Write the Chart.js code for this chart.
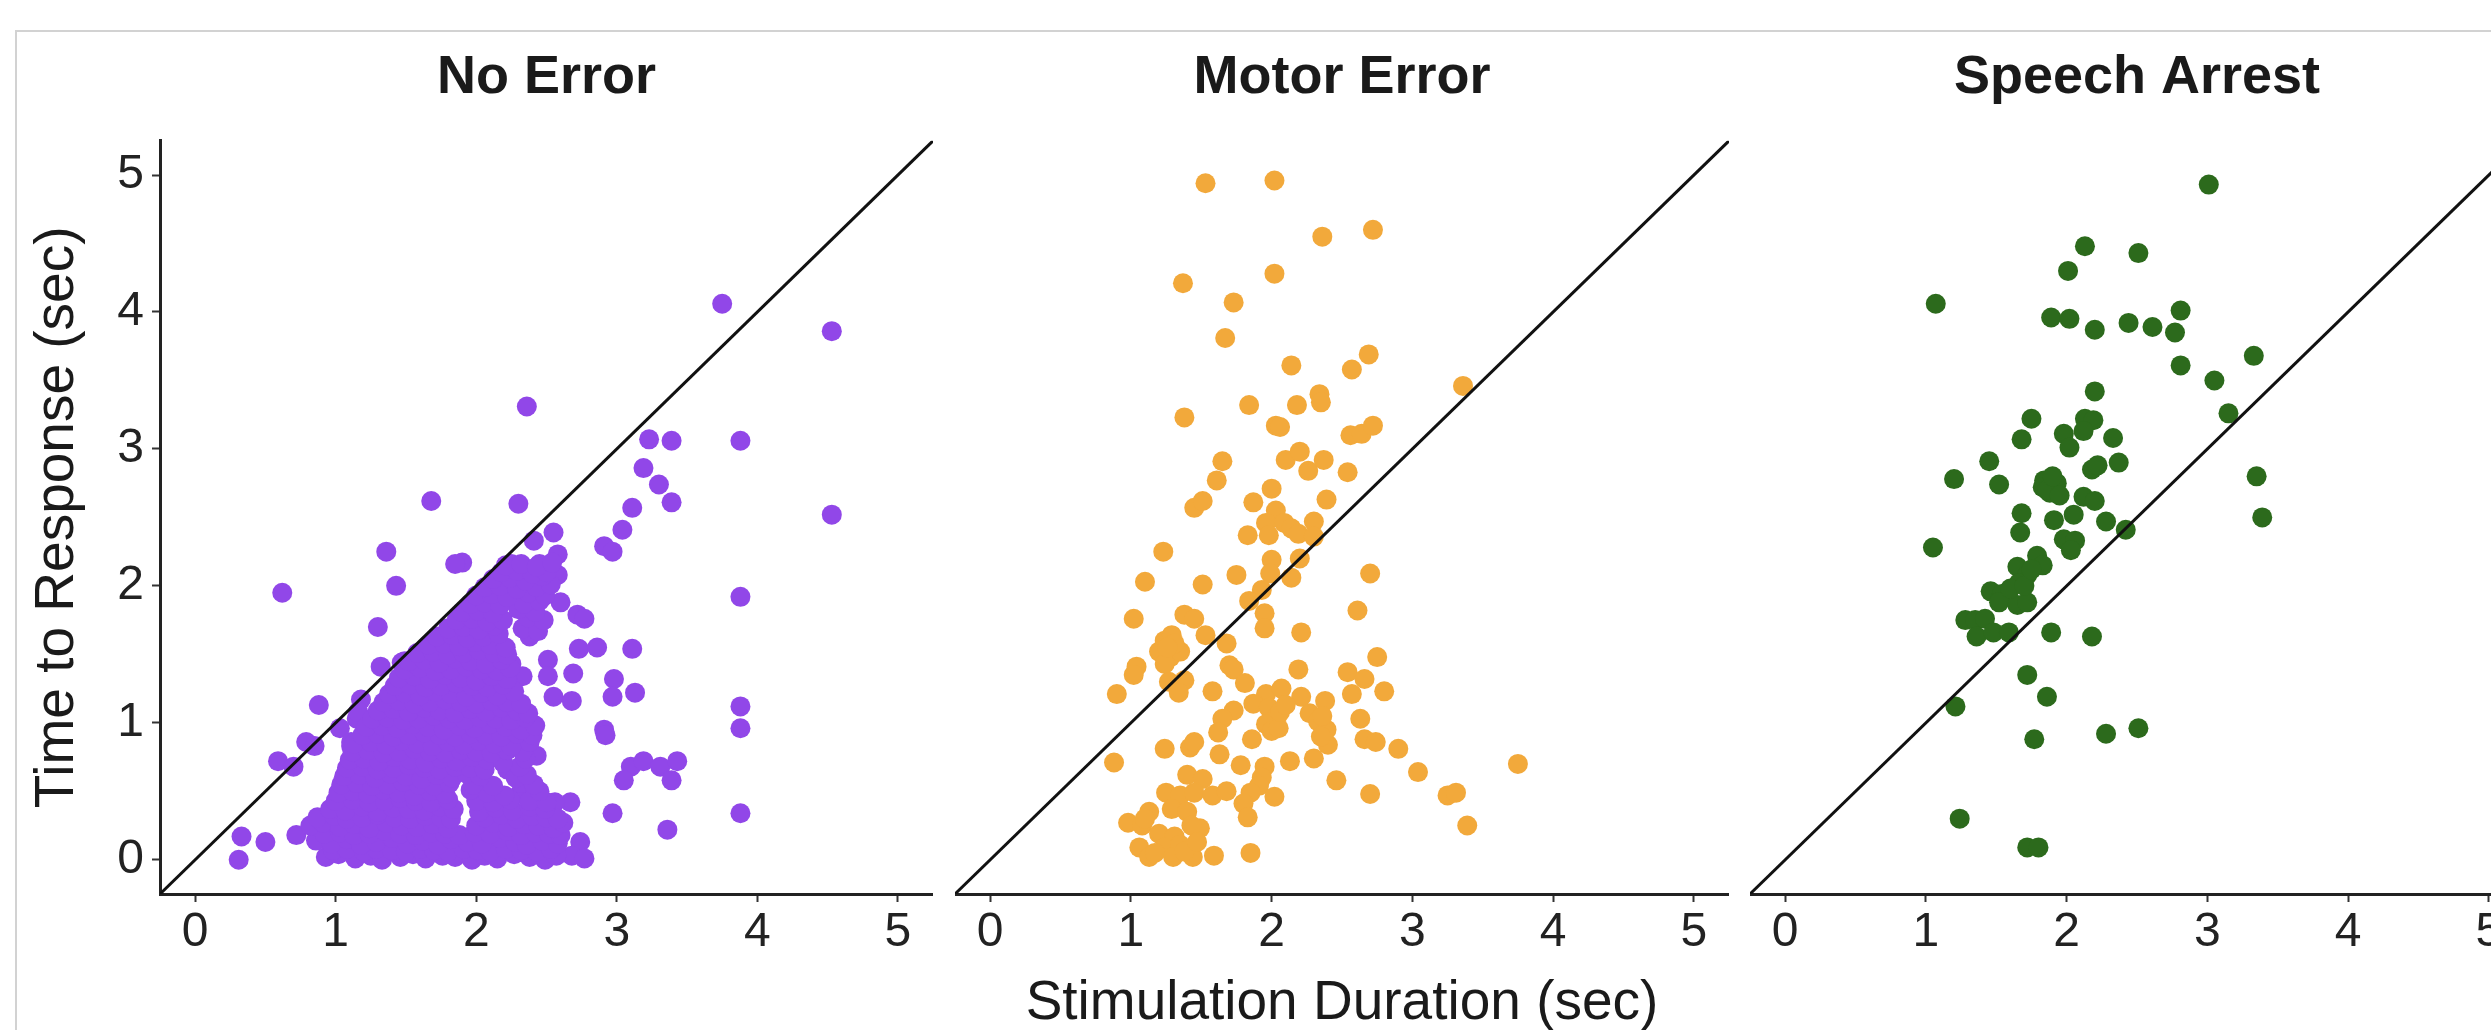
<!DOCTYPE html>
<html>
<head>
<meta charset="utf-8">
<script src="https://cdn.jsdelivr.net/npm/chart.js@4.4.1/dist/chart.umd.min.js"></script>
<style>
  html, body { margin: 0; padding: 0; width: 2491px; height: 1030px; overflow: hidden; background: #fff; }
  #frame { position: absolute; left: 15px; top: 30px; width: 2600px; height: 1100px; border: 2px solid #d2d2d2; }
  canvas { position: absolute; top: 46px; }
</style>
</head>
<body>
<div id="frame"></div>
<canvas id="panel1" style="left:0px"></canvas>
<canvas id="panel2" style="left:955px"></canvas>
<canvas id="panel3" style="left:1750px"></canvas>
<script>
// facet titles + axis titles
const facetTitles = ["No Error", "Motor Error", "Speech Arrest"];
const xTitle = "Stimulation Duration (sec)";
const yTitle = "Time to Response (sec)";
const axisMin = -0.25;
const axisMax = 5.25;
// reference line y = x (drawn corner to corner)
const identityLine = [-0.25, 5.25];

// [stimulation duration, time to response]
const noError = [
  [3.75,4.06],[4.53,3.86],[2.36,3.31],[3.23,3.07],[3.39,3.06],[3.88,3.06],[3.19,2.86],[3.30,2.74],
  [3.39,2.61],[3.11,2.57],[4.53,2.52],[1.68,2.62],[2.30,2.60],[3.04,2.41],[2.91,2.29],[2.97,2.25],
  [2.55,2.39],[2.41,2.33],[2.58,2.23],[1.36,2.25],[1.90,2.17],[1.85,2.16],[1.43,2.00],[0.62,1.95],
  [3.88,1.92],[2.58,2.08],[2.45,2.16],[2.33,2.12],[2.25,2.16],[2.31,1.97],[2.15,1.91],[2.05,1.91],
  [2.60,1.88],[2.72,1.79],[2.77,1.76],[1.30,1.70],[2.73,1.54],[2.86,1.55],[3.11,1.54],[2.51,1.46],
  [2.25,1.43],[2.33,1.34],[2.51,1.34],[2.69,1.36],[2.98,1.32],[3.13,1.22],[2.97,1.19],[2.55,1.19],
  [2.68,1.16],[1.32,1.41],[1.47,1.44],[1.47,1.24],[0.88,1.13],[2.91,0.95],[2.92,0.91],[3.88,1.12],
  [3.88,0.96],[3.10,0.68],[3.19,0.72],[3.05,0.58],[3.31,0.68],[3.43,0.72],[3.39,0.58],[2.97,0.34],
  [3.88,0.34],[3.36,0.22],[0.59,0.72],[0.70,0.68],[0.79,0.86],[0.85,0.83],[0.33,0.17],[0.50,0.13],
  [0.72,0.18],[0.31,0.00],[1.18,1.17],[1.15,1.03],[1.03,0.96],[1.11,0.83],[1.22,0.96],[2.40,0.99],
  [2.43,0.76],[2.22,0.66],[2.31,0.48],[2.33,0.57],[2.67,0.42],[2.56,0.42],[2.45,0.34],[2.61,0.27],
  [2.74,0.13],[2.68,0.03],[2.77,0.01],[1.49,1.45],[1.63,1.47],[1.77,1.54],[1.16,1.08],[1.11,0.86]
];
// the dense cloud of No Error trials, read row by row
const noErrorCore = [
  [0.93,0.02],[1.02,0.04],[1.14,0.01],[1.25,0.03],[1.33,0.00],[1.46,0.02],[1.55,0.04],[1.64,0.01],[1.76,0.03],
  [1.85,0.02],[1.97,0.00],[2.06,0.03],[2.15,0.01],[2.27,0.04],[2.38,0.02],[2.49,0.00],[2.57,0.03],
  [0.98,0.07],[1.08,0.08],[1.20,0.06],[1.29,0.08],[1.40,0.07],[1.50,0.06],[1.60,0.08],[1.70,0.07],[1.80,0.06],
  [1.91,0.08],[2.01,0.07],[2.10,0.06],[2.21,0.08],[2.32,0.07],[2.43,0.06],[2.53,0.08],
  [0.86,0.14],[0.97,0.12],[1.08,0.15],[1.18,0.11],[1.29,0.13],[1.40,0.16],[1.51,0.12],[1.62,0.14],[1.73,0.11],
  [1.82,0.15],[1.94,0.13],[2.04,0.12],[2.17,0.16],[2.28,0.13],[2.36,0.11],[2.47,0.14],[2.58,0.12],
  [0.92,0.19],[1.03,0.20],[1.13,0.18],[1.24,0.19],[1.35,0.21],[1.46,0.19],[1.57,0.18],[1.68,0.20],[1.78,0.19],
  [1.88,0.18],[1.99,0.20],[2.10,0.19],[2.22,0.21],[2.32,0.18],[2.42,0.20],[2.52,0.19],[2.60,0.18],
  [0.82,0.25],[0.91,0.27],[1.03,0.24],[1.13,0.26],[1.24,0.23],[1.36,0.27],[1.47,0.25],[1.58,0.24],[1.69,0.26],
  [1.80,0.23],[2.00,0.25],[2.12,0.27],[2.23,0.24],[2.34,0.26],[2.44,0.25],[2.55,0.23],[2.62,0.27],
  [0.87,0.31],[0.99,0.32],[1.08,0.30],[1.19,0.31],[1.30,0.33],[1.42,0.31],[1.53,0.30],[1.64,0.32],[1.75,0.31],
  [1.82,0.30],[2.06,0.31],[2.18,0.33],[2.29,0.30],[2.40,0.32],[2.50,0.31],[2.58,0.30],
  [0.96,0.37],[1.07,0.36],[1.19,0.39],[1.30,0.35],[1.41,0.38],[1.52,0.37],[1.63,0.36],[1.74,0.39],[1.84,0.37],
  [2.02,0.35],[2.14,0.38],[2.26,0.36],[2.38,0.39],[2.49,0.37],
  [1.00,0.43],[1.12,0.44],[1.24,0.42],[1.35,0.43],[1.46,0.45],[1.57,0.43],[1.68,0.42],[1.80,0.44],[2.00,0.43],
  [2.12,0.42],[2.24,0.44],[2.38,0.43],[2.50,0.42],
  [1.02,0.49],[1.12,0.50],[1.23,0.48],[1.34,0.51],[1.45,0.49],[1.56,0.47],[1.67,0.50],[1.78,0.48],[1.96,0.51],
  [2.08,0.49],[2.20,0.47],[2.45,0.50],
  [1.04,0.55],[1.15,0.56],[1.26,0.54],[1.37,0.55],[1.48,0.57],[1.59,0.55],[1.70,0.54],[1.81,0.56],[1.98,0.55],
  [2.12,0.54],[2.32,0.56],[2.41,0.55],
  [1.06,0.61],[1.17,0.62],[1.28,0.60],[1.39,0.63],[1.50,0.61],[1.61,0.59],[1.72,0.62],[1.83,0.60],[1.93,0.63],
  [2.03,0.61],[2.28,0.60],[2.36,0.62],
  [1.08,0.67],[1.19,0.68],[1.30,0.66],[1.41,0.67],[1.52,0.69],[1.63,0.67],[1.74,0.66],[1.85,0.68],[1.96,0.67],
  [2.06,0.66],[2.31,0.68],
  [1.10,0.73],[1.20,0.74],[1.31,0.72],[1.42,0.75],[1.53,0.73],[1.64,0.71],[1.75,0.74],[1.86,0.72],[1.97,0.75],
  [2.08,0.73],[2.19,0.71],[2.35,0.74],
  [1.12,0.79],[1.23,0.80],[1.34,0.78],[1.45,0.79],[1.56,0.81],[1.67,0.79],[1.78,0.78],[1.89,0.80],[2.00,0.79],
  [2.11,0.78],[2.22,0.80],[2.33,0.79],
  [1.13,0.85],[1.25,0.86],[1.36,0.84],[1.47,0.87],[1.58,0.85],[1.69,0.83],[1.80,0.86],[1.91,0.84],[2.02,0.87],
  [2.13,0.85],[2.25,0.83],[2.38,0.86],
  [1.19,0.91],[1.30,0.92],[1.41,0.90],[1.52,0.91],[1.63,0.93],[1.74,0.91],[1.85,0.90],[1.96,0.92],[2.07,0.91],
  [2.18,0.90],[2.29,0.92],[2.40,0.91],
  [1.22,0.97],[1.33,0.98],[1.44,0.96],[1.55,0.99],[1.66,0.97],[1.77,0.95],[1.88,0.98],[1.99,0.96],[2.10,0.99],
  [2.21,0.97],[2.32,0.95],[2.42,0.98],
  [1.26,1.03],[1.37,1.04],[1.48,1.02],[1.59,1.03],[1.70,1.05],[1.81,1.03],[1.92,1.02],[2.03,1.04],[2.14,1.03],
  [2.25,1.02],[2.35,1.04],
  [1.30,1.09],[1.41,1.10],[1.52,1.08],[1.63,1.11],[1.74,1.09],[1.85,1.07],[1.96,1.10],[2.07,1.08],[2.18,1.11],
  [2.29,1.09],[2.37,1.07],
  [1.34,1.15],[1.45,1.16],[1.56,1.14],[1.67,1.15],[1.78,1.17],[1.89,1.15],[2.00,1.14],[2.11,1.16],[2.22,1.15],
  [2.32,1.14],
  [1.38,1.21],[1.49,1.22],[1.60,1.20],[1.71,1.23],[1.82,1.21],[1.93,1.19],[2.04,1.22],[2.15,1.20],[2.27,1.23],
  [1.42,1.27],[1.53,1.28],[1.64,1.26],[1.75,1.27],[1.86,1.29],[1.97,1.27],[2.08,1.26],[2.19,1.28],
  [1.45,1.33],[1.56,1.34],[1.67,1.32],[1.78,1.35],[1.89,1.33],[2.00,1.31],[2.11,1.34],[2.22,1.32],
  [1.49,1.39],[1.60,1.40],[1.71,1.38],[1.82,1.39],[1.93,1.41],[2.04,1.39],[2.15,1.38],[2.24,1.40],
  [1.52,1.45],[1.63,1.46],[1.74,1.44],[1.85,1.47],[1.96,1.45],[2.07,1.43],[2.18,1.46],
  [1.58,1.51],[1.69,1.52],[1.80,1.50],[1.91,1.51],[2.02,1.53],[2.13,1.51],[2.22,1.50],
  [1.66,1.57],[1.77,1.58],[1.88,1.56],[1.99,1.59],[2.10,1.57],[2.21,1.55],
  [1.72,1.63],[1.83,1.64],[1.94,1.62],[2.05,1.63],[2.16,1.65],[2.38,1.63],
  [1.80,1.69],[1.91,1.70],[2.02,1.68],[2.13,1.71],[2.33,1.69],[2.44,1.67],
  [1.86,1.75],[1.97,1.76],[2.08,1.74],[2.19,1.75],[2.37,1.77],[2.48,1.75],
  [1.90,1.81],[2.01,1.82],[2.12,1.80],[2.30,1.83],[2.42,1.81],
  [1.96,1.87],[2.06,1.88],[2.17,1.86],[2.34,1.87],[2.45,1.89],
  [2.00,1.93],[2.11,1.94],[2.22,1.92],[2.37,1.95],[2.49,1.93],
  [2.06,1.99],[2.17,2.00],[2.29,1.98],[2.43,1.99],[2.53,2.01],
  [2.12,2.05],[2.24,2.06],[2.35,2.04],[2.47,2.07],
  [2.18,2.10],[2.29,2.11],[2.40,2.09],[2.50,2.10],
  [2.21,2.15],[2.32,2.16],[2.43,2.14],[2.54,2.17]
];
const motorError = [
  [1.53,4.94],[2.02,4.96],[2.36,4.55],[2.72,4.60],[1.37,4.21],[2.02,4.28],[1.73,4.07],[1.67,3.81],
  [2.14,3.61],[2.57,3.58],[2.69,3.69],[3.36,3.46],[1.38,3.23],[1.84,3.32],[2.18,3.32],[2.34,3.40],
  [2.35,3.34],[2.03,3.17],[2.06,3.16],[2.56,3.10],[2.64,3.11],[2.72,3.17],[1.65,2.91],[1.61,2.77],
  [2.10,2.92],[2.20,2.98],[2.26,2.84],[2.37,2.92],[2.54,2.83],[2.00,2.71],[1.87,2.61],[2.39,2.63],
  [1.45,2.57],[1.51,2.62],[2.03,2.55],[1.96,2.46],[2.09,2.46],[2.14,2.42],[2.19,2.38],[2.30,2.47],
  [2.30,2.36],[1.83,2.37],[1.98,2.37],[1.23,2.25],[2.00,2.19],[1.99,2.09],[2.20,2.20],[2.14,2.06],
  [2.70,2.09],[1.10,2.03],[1.51,2.01],[1.75,2.08],[1.93,1.97],[1.84,1.89],[1.02,1.76],[1.38,1.79],
  [1.45,1.76],[1.95,1.80],[1.95,1.69],[2.61,1.82],[2.21,1.66],[1.24,1.60],[1.29,1.64],[1.53,1.64],
  [1.68,1.58],[1.20,1.52],[1.28,1.48],[1.35,1.52],[1.24,1.43],[1.70,1.42],[1.73,1.39],[1.04,1.41],
  [1.02,1.35],[2.75,1.48],[2.19,1.39],[2.54,1.37],[2.66,1.32],[1.27,1.30],[1.38,1.31],[1.34,1.22],
  [1.81,1.29],[0.90,1.21],[1.58,1.23],[1.96,1.21],[2.07,1.25],[1.87,1.14],[1.98,1.11],[2.21,1.19],
  [2.38,1.16],[2.57,1.21],[2.80,1.23],[1.73,1.09],[1.65,1.03],[2.04,1.05],[2.27,1.07],[2.33,1.01],
  [2.39,0.95],[2.63,1.03],[1.62,0.93],[1.96,0.99],[2.00,0.94],[2.05,0.96],[1.86,0.88],[2.40,0.84],
  [2.66,0.88],[2.74,0.86],[2.90,0.81],[1.24,0.81],[1.42,0.82],[1.45,0.86],[1.63,0.77],[0.88,0.71],
  [2.13,0.72],[2.30,0.74],[1.78,0.69],[1.95,0.68],[1.93,0.60],[3.75,0.70],[3.04,0.64],[2.46,0.58],
  [1.91,0.54],[1.85,0.49],[2.02,0.46],[2.70,0.48],[3.25,0.47],[3.31,0.49],[3.39,0.25],[1.40,0.62],
  [1.51,0.59],[1.25,0.49],[1.35,0.47],[1.45,0.49],[1.58,0.47],[1.68,0.50],[1.80,0.41],[1.83,0.31],
  [1.13,0.35],[0.98,0.27],[1.08,0.25],[1.29,0.37],[1.40,0.35],[1.49,0.23],[1.20,0.19],[1.31,0.17],
  [1.06,0.09],[1.13,0.02],[1.24,0.09],[1.35,0.11],[1.44,0.02],[1.59,0.03],[1.85,0.05],[1.43,0.25],
  [1.10,0.30],[1.17,0.05],[1.30,0.02],[1.38,0.06],[1.47,0.13],[2.06,1.08],[2.10,1.13],[2.36,1.05],
  [2.35,0.90],[1.31,1.58],[1.26,1.55]
];
const speechArrest = [
  [3.01,4.93],[2.13,4.48],[2.51,4.43],[2.01,4.30],[1.07,4.06],[1.89,3.96],[2.02,3.95],[2.20,3.87],
  [2.44,3.92],[2.61,3.89],[2.81,4.01],[2.77,3.85],[2.81,3.61],[3.33,3.68],[3.05,3.50],[3.15,3.26],
  [2.20,3.42],[1.75,3.22],[1.68,3.07],[2.13,3.22],[2.19,3.21],[2.12,3.13],[1.98,3.11],[2.02,3.01],
  [2.33,3.08],[1.45,2.91],[1.20,2.78],[1.52,2.74],[2.18,2.85],[2.22,2.88],[2.37,2.90],[1.84,2.77],
  [1.93,2.75],[1.88,2.68],[1.83,2.72],[2.12,2.65],[2.20,2.62],[3.35,2.80],[3.39,2.50],[1.68,2.53],
  [1.91,2.48],[2.05,2.52],[2.28,2.47],[1.67,2.39],[2.42,2.41],[1.05,2.28],[1.98,2.34],[2.06,2.33],
  [2.03,2.26],[1.79,2.22],[1.83,2.15],[1.65,2.14],[1.72,2.08],[1.66,2.02],[1.46,1.96],[1.54,1.94],
  [1.52,1.88],[1.65,1.86],[1.72,1.88],[1.28,1.75],[1.35,1.75],[1.42,1.76],[1.36,1.63],[1.48,1.66],
  [1.59,1.66],[1.89,1.66],[2.18,1.63],[1.72,1.35],[1.86,1.19],[1.21,1.12],[1.77,0.88],[2.28,0.92],
  [2.51,0.96],[1.24,0.30],[1.72,0.09],[1.80,0.09],[1.60,1.98],[1.70,2.00],[1.75,2.12],[1.86,2.70],
  [1.90,2.80],[1.95,2.66]
];

const pointColors = ["#9147e8", "#f2a93b", "#2c6a1c"];

const FONT = '"Liberation Sans", Arial, Helvetica, sans-serif';
Chart.defaults.font.family = FONT;
Chart.defaults.color = "#1a1a1a";

// pin every axis box to an exact size so the panels line up like facets
const fixScale = (size) => (scale) => {
  if (scale.isHorizontal()) scale.height = size;
  else scale.width = size;
  scale.paddingLeft = 0;
  scale.paddingRight = 0;
  scale.paddingTop = 0;
  scale.paddingBottom = 0;
};

const panels = [
  { id: "panel1", pts: noError.concat(noErrorCore), width: 933, showY: true, showXTitle: false },
  { id: "panel2", pts: motorError, width: 774, showY: false, showXTitle: true },
  { id: "panel3", pts: speechArrest, width: 774, showY: false, showXTitle: false },
];

panels.forEach((p, i) => {
  const canvas = document.getElementById(p.id);
  canvas.width = p.width;
  canvas.height = 998;
  new Chart(canvas.getContext("2d"), {
    type: "scatter",
    data: {
      datasets: [
        {
          type: "line",
          data: identityLine.map((v) => ({ x: v, y: v })),
          borderColor: "#111",
          borderWidth: 3,
          pointRadius: 0,
          showLine: true,
          fill: false,
          order: 0,
        },
        {
          data: p.pts.map((d) => ({ x: d[0], y: d[1] })),
          backgroundColor: pointColors[i],
          borderWidth: 0,
          pointRadius: 10,
          pointHoverRadius: 10,
          order: 1,
        },
      ],
    },
    options: {
      responsive: false,
      animation: false,
      devicePixelRatio: 1,
      events: [],
      layout: { padding: 0, autoPadding: false },
      plugins: {
        legend: { display: false },
        tooltip: { enabled: false },
        title: {
          display: true,
          text: facetTitles[i],
          fullSize: false,
          color: "#1a1a1a",
          font: { size: 54, weight: "bold", lineHeight: 1.2 },
          padding: { top: 0, bottom: 30 },
        },
      },
      scales: {
        x: {
          type: "linear",
          min: axisMin,
          max: axisMax,
          ticks: { stepSize: 1, includeBounds: false, font: { size: 48 }, color: "#222", padding: 2, maxRotation: 0, autoSkip: false },
          grid: { drawOnChartArea: false, tickLength: 8, tickWidth: 2, tickColor: "#333" },
          border: { display: true, color: "#222", width: 3 },
          title: { display: p.showXTitle, text: xTitle, color: "#1a1a1a", font: { size: 55, lineHeight: 1.2 }, padding: { top: 0, bottom: 7 } },
          afterFit: fixScale(150),
        },
        y: {
          type: "linear",
          display: p.showY,
          min: axisMin,
          max: axisMax,
          ticks: { stepSize: 1, includeBounds: false, font: { size: 48 }, color: "#222", padding: 8 },
          grid: { drawOnChartArea: false, tickLength: 8, tickWidth: 2, tickColor: "#333" },
          border: { display: true, color: "#222", width: 3 },
          title: { display: true, text: yTitle, color: "#1a1a1a", font: { size: 55, lineHeight: 1.2 }, padding: { top: 25, bottom: 0 } },
          afterFit: fixScale(p.showY ? 160 : 0),
        },
      },
    },
  });
});
</script>
</body>
</html>
